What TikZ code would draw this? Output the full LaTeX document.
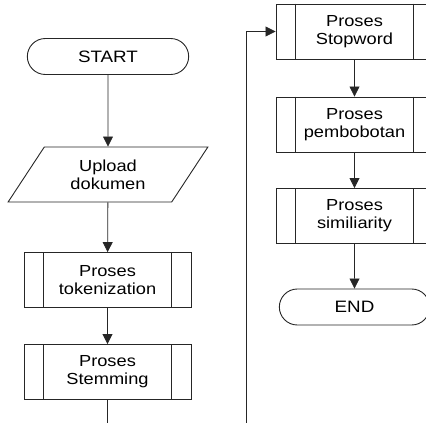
\documentclass[tikz,border=0pt]{standalone}
\usepackage{fontspec}
\setmainfont[FakeStretch=1.14]{Liberation Sans}
\usetikzlibrary{shapes.geometric,shapes.misc,arrows.meta}

\begin{document}
\begin{tikzpicture}[x=1pt,y=-1pt]
	\tikzstyle{terminal} = [rounded rectangle, minimum width=157pt, minimum height=36pt, draw=black!85, line width=0.9pt, font=\fontsize{16.5}{18}\selectfont]
	\tikzstyle{io} = [trapezium, trapezium left angle=57.5, trapezium right angle=122.5, trapezium stretches=true, minimum width=200pt, minimum height=55pt, draw=black!85, line width=0.9pt, align=center, font=\fontsize{16}{18}\selectfont]
	\tikzstyle{subproc} = [rectangle, minimum width=157pt, minimum height=55pt, draw=black!85, line width=0.9pt, align=center, font=\fontsize{16}{18}\selectfont]
	\tikzstyle{arrow} = [line width=0.8pt, draw=black!85, -{Triangle[length=10pt,width=10pt]}]
	\tikzstyle{line} = [line width=0.8pt, draw=black!85]

	\useasboundingbox (0,0) rectangle (426,423);
	\clip (0,0) rectangle (426,423);

	% left column
	\node (start) [terminal, minimum width=168pt] at (108,56.5) {START};
	\node (upload) [io] at (108,174.5) {Upload\\dokumen};
	\node (token) [subproc, minimum width=167pt] at (107.5,280) {Proses\\tokenization};
	\node (stem) [subproc, minimum width=167pt] at (107.5,372) {Proses\\Stemming};

	% right column
	\node (stop) [subproc] at (354.5,31.5) {Proses\\Stopword};
	\node (bobot) [subproc] at (354.5,124.5) {Proses\\pembobotan};
	\node (simil) [subproc] at (354.5,216) {Proses\\similiarity};
	\node (end) [terminal] at (354.5,307) {END};

	% inner bars of the subprocess boxes
	\foreach \n in {token,stem,stop,bobot,simil}
		\draw [line] ([xshift=20pt]\n.north west) -- ([xshift=20pt]\n.south west)
			([xshift=-20pt]\n.north east) -- ([xshift=-20pt]\n.south east);

	\coordinate (down) at (107.5,440);
	\coordinate (up) at (246,440);
	\coordinate (turn) at (246,31.5);

	\draw [arrow] (start) -- (upload);
	\draw [arrow] (upload) -- (token);
	\draw [arrow] (token) -- (stem);
	\draw [line] (stem) -- (down);
	\draw [arrow] (up) -- (turn) -- (stop);
	\draw [arrow] (stop) -- (bobot);
	\draw [arrow] (bobot) -- (simil);
	\draw [arrow] (simil) -- (end);
\end{tikzpicture}
\end{document}
